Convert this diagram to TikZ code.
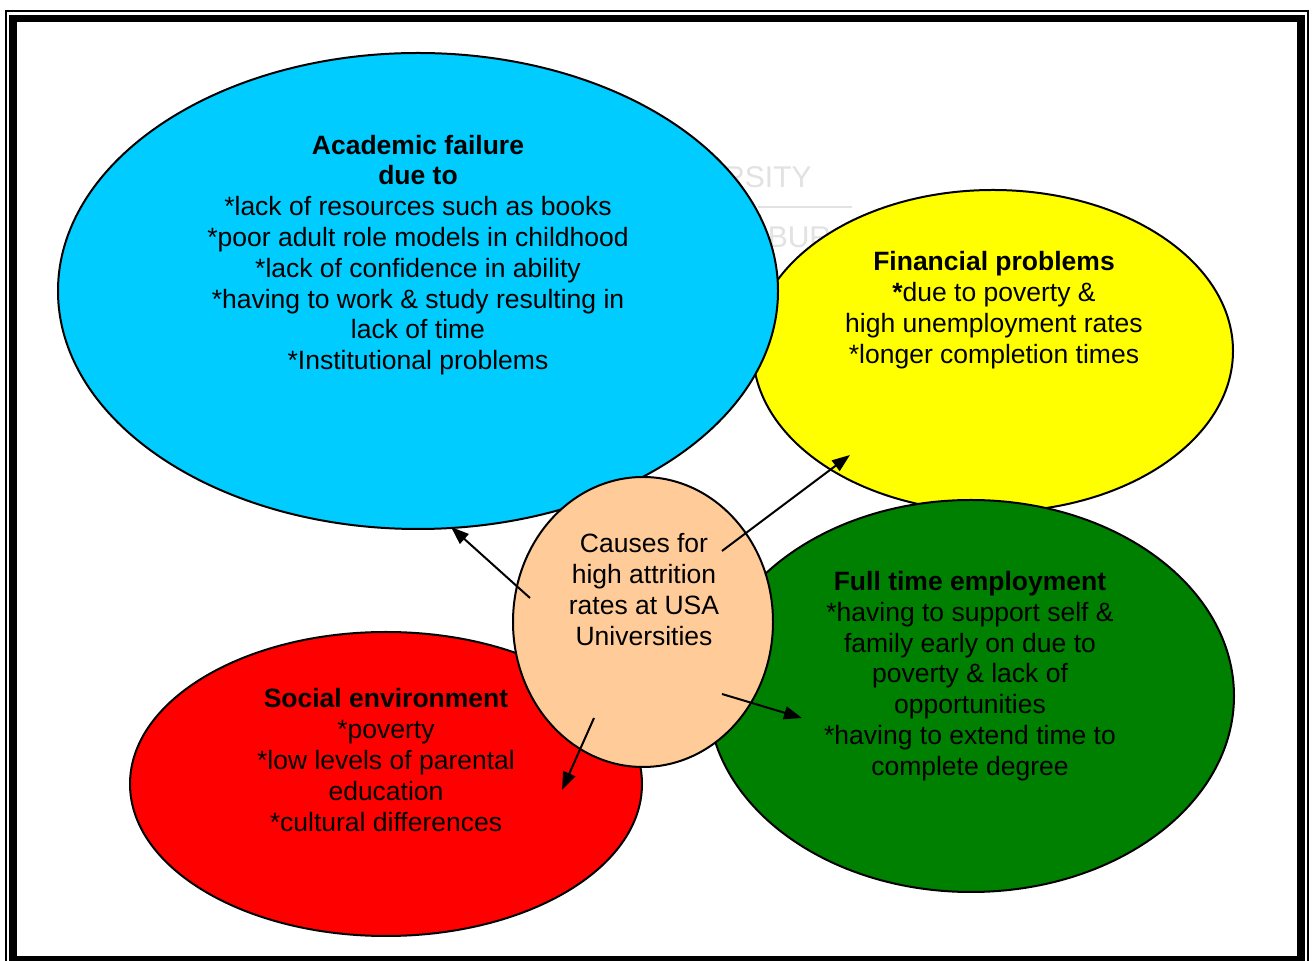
\documentclass[tikz,border=0pt]{standalone}
\usepackage{fontspec}
\setmainfont{Liberation Sans}
\usetikzlibrary{shapes.geometric,arrows.meta}

\definecolor{skyblue}{HTML}{00CCFF}
\definecolor{sunyellow}{HTML}{FFFF00}
\definecolor{leafgreen}{HTML}{008000}
\definecolor{brightred}{HTML}{FF0000}
\definecolor{peach}{HTML}{FFCC99}
\definecolor{markgray}{HTML}{E2E2E2}

\tikzset{
  bubble/.style={ellipse, draw=black, line width=1pt, inner sep=0pt},
  bodytext/.style={align=center, inner sep=0pt, text=black,
    font=\fontsize{13.25}{15.4}\selectfont},
  arr/.style={line width=1pt, -{Triangle[length=9pt,width=6.5pt]}},
  wmark/.style={text=markgray, inner sep=0pt, font=\fontsize{15}{18}\selectfont}
}

\begin{document}
\begin{tikzpicture}[x=0.5pt, y=-0.5pt]
  \useasboundingbox (0,0) rectangle (1313,961);
  \fill[white] (0,0) rectangle (1313,961);

  % page frame: thin outer rule and heavy inner rule
  \draw[line width=1pt] (6,11) rectangle (1308,968);
  \draw[line width=3.8pt] (13,18.5) rectangle (1301,960);

  % faint watermark behind the bubbles
  \node[wmark, anchor=base east] (wm1) at (812,188) {UNIVERSITY};
  \node[wmark, anchor=base west] (wm2) at (604,248) {JOHANNESBURG};
  \draw[markgray, line width=1pt] (758,207) -- (852,207);

  % bubbles, back to front
  \node[bubble, fill=sunyellow, minimum width=240pt, minimum height=161pt] (fin) at (993,351) {};
  \node[bubble, fill=skyblue, minimum width=360pt, minimum height=238pt] (acad) at (418,291) {};
  \node[bubble, fill=leafgreen, minimum width=263pt, minimum height=196pt] (emp) at (971,696) {};
  \node[bubble, fill=brightred, minimum width=256pt, minimum height=152pt] (soc) at (386,784) {};
  \node[bubble, fill=peach, minimum width=130pt, minimum height=145pt] (core) at (643,622) {};

  % bubble texts
  \node[bodytext] (acadtxt) at (418,255) {\textbf{Academic failure}\\\textbf{due to}\\
    *lack of resources such as books\\*poor adult role models in childhood\\
    *lack of confidence in ability\\*having to work \& study resulting in\\
    lack of time\\*Institutional problems};
  \node[bodytext] (fintxt) at (994,310) {\textbf{Financial problems}\\\textbf{*}due to poverty \&\\
    high unemployment rates\\*longer completion times};
  \node[bodytext] (emptxt) at (970,676) {\textbf{Full time employment}\\*having to support self \&\\
    family early on due to\\poverty \& lack of\\opportunities\\*having to extend time to\\complete degree};
  \node[bodytext] (soctxt) at (386,760) {\textbf{Social environment}\\*poverty\\
    *low levels of parental\\education\\*cultural differences};
  \node[bodytext] (coretxt) at (644,589.5) {Causes for\\high attrition\\rates at USA\\Universities};

  % arrow ends
  \coordinate (s1) at (530,598);  \coordinate (e1) at (451,527);
  \coordinate (s2) at (722,551);  \coordinate (e2) at (850,455);
  \coordinate (s3) at (722,694);  \coordinate (e3) at (802,718);
  \coordinate (s4) at (594,718);  \coordinate (e4) at (562,790);

  \draw[arr] (s1) -- (e1);
  \draw[arr] (s2) -- (e2);
  \draw[arr] (s3) -- (e3);
  \draw[arr] (s4) -- (e4);
\end{tikzpicture}
\end{document}
